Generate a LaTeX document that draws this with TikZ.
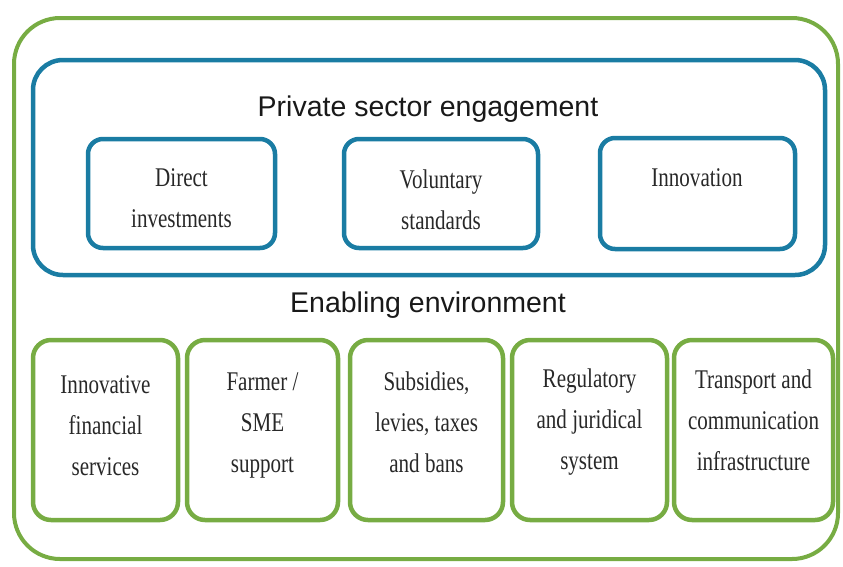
\documentclass[tikz,border=0pt]{standalone}
\usepackage{fontspec}
\usepackage{tikz}
\newfontfamily\boxfont[FakeStretch=0.78]{Liberation Serif}
\newfontfamily\headfont{Liberation Sans}
\definecolor{envgreen}{RGB}{119,172,67}
\definecolor{psblue}{RGB}{26,124,163}
\definecolor{txtgray}{RGB}{40,40,40}

\begin{document}
\begin{tikzpicture}[x=1pt,y=-1pt,
    greenbox/.style={draw=envgreen,line width=4.5pt,rounded corners=18pt},
    bluebox/.style={draw=psblue,line width=4.5pt,rounded corners=15pt},
    boxtext/.style={align=center,text=txtgray,font=\boxfont\fontsize{27}{41}\selectfont},
    headtext/.style={text=black!90,font=\headfont\fontsize{28.5}{32}\selectfont}]
                \useasboundingbox (0,0) rectangle (843,566);
                % outer frame and private sector frame
                \draw[draw=envgreen,line width=4pt,rounded corners=46pt] (14,18) rectangle (838,559);
                \draw[draw=psblue,line width=4.5pt,rounded corners=30pt] (33,60) rectangle (825,275);
                \node[headtext] (private) at (428,109) {Private sector engagement};
                \node[headtext] (enabling) at (428,305) {Enabling environment};
                % private sector boxes
                \draw[bluebox] (88,139) rectangle (275,248);
                \draw[bluebox] (344,139) rectangle (538,248);
                \draw[bluebox] (600,138) rectangle (795,249);
                \node[boxtext] (direct) at (181.5,198) {Direct\\investments};
                \node[boxtext] (voluntary) at (441,200) {Voluntary\\standards};
                \node[boxtext] (innovation) at (697,178) {Innovation};
                % enabling environment boxes
                \draw[greenbox] (33,340) rectangle (178,520);
                \draw[greenbox] (187,340) rectangle (338,520);
                \draw[greenbox] (350,340) rectangle (503,520);
                \draw[greenbox] (512,340) rectangle (667,520);
                \draw[greenbox] (674,340) rectangle (833,520);
                \node[boxtext] (finance) at (105.5,426) {Innovative\\financial\\services};
                \node[boxtext] (farmer) at (262.5,425) {Farmer /\\SME\\support};
                \node[boxtext] (subsidies) at (426.5,422) {Subsidies,\\levies, taxes\\and bans};
                \node[boxtext] (regulatory) at (589.5,422) {Regulatory\\and juridical\\system};
                \node[boxtext] (transport) at (753.5,420) {Transport and\\communication\\infrastructure};
\end{tikzpicture}
\end{document}
